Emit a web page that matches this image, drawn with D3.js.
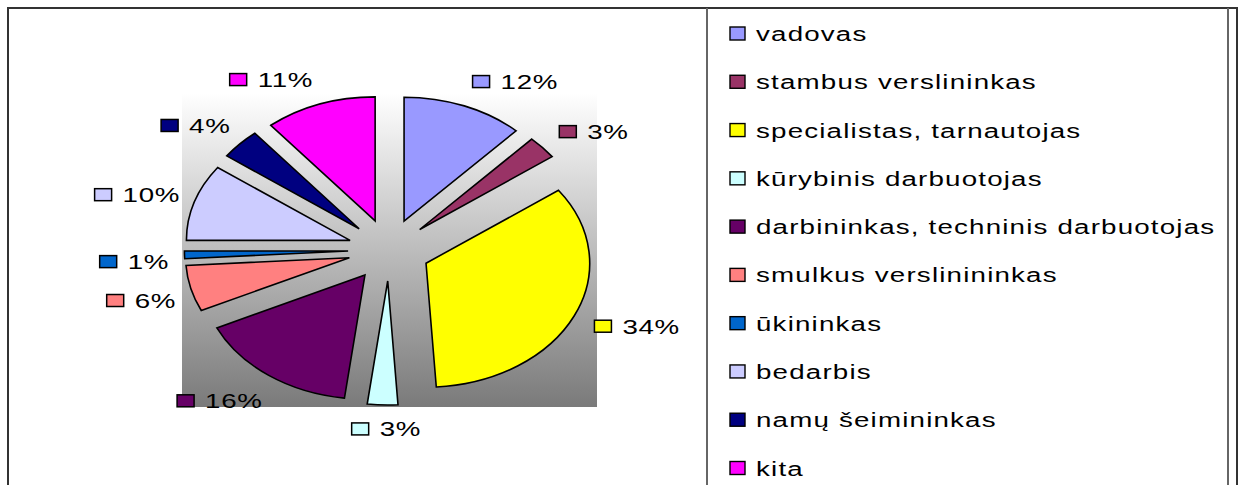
<!DOCTYPE html>
<html>
<head>
<meta charset="utf-8">
<script src="https://cdn.jsdelivr.net/npm/d3@7/dist/d3.min.js"></script>
<style>
  body { margin: 0; background: #fff; }
  text { font-family: "Liberation Sans", Arial, sans-serif; fill: #000; }
</style>
</head>
<body>
<script>
// categories and shares (percent), clockwise from 12 o'clock
var categories = ["vadovas", "stambus verslininkas", "specialistas, tarnautojas", "kūrybinis darbuotojas",
  "darbininkas, techninis darbuotojas", "smulkus verslinininkas", "ūkininkas", "bedarbis",
  "namų šeimininkas", "kita"];
var shares = [12, 3, 34, 3, 16, 6, 1, 10, 4, 11];
var labels = ["12%", "3%", "34%", "3%", "16%", "6%", "1%", "10%", "4%", "11%"];
var colours = ["#9999FF", "#993366", "#FFFF00", "#CCFFFF", "#660066", "#FF8080", "#0066CC", "#CCCCFF", "#000080", "#FF00FF"];

var data = categories.map(function(c, i){ return {name: c, value: shares[i], label: labels[i], colour: colours[i]}; });

var W = 1242, H = 485;
var sx = 1.32;          // the picture is stretched sideways
var cx = 389, cy = 250;
var R = 124, explode = 31, labelR = 172;
var fontSize = 21;

var svg = d3.select("body").append("svg")
  .attr("width", W).attr("height", H);

// plot area gradient
var grad = svg.append("defs").append("linearGradient")
  .attr("id", "bg").attr("x1", 0).attr("y1", 0).attr("x2", 0).attr("y2", 1);
grad.append("stop").attr("offset", "0%").attr("stop-color", "#ffffff");
grad.append("stop").attr("offset", "100%").attr("stop-color", "#7a7a7a");

svg.append("rect")
  .attr("x", cx - 207).attr("y", cy - 157)
  .attr("width", 415).attr("height", 314)
  .attr("fill", "url(#bg)");

var pie = d3.pie().sort(null).value(function(d){ return d.value; });
var arc = d3.arc().innerRadius(0).outerRadius(R);
var arcs = pie(data);

var g = svg.append("g")
  .attr("transform", "translate(" + cx + "," + cy + ") scale(" + sx + ",1)");

g.selectAll("path")
  .data(arcs)
  .enter()
  .append("path")
  .attr("d", arc)
  .attr("transform", function(d){
    var m = (d.startAngle + d.endAngle) / 2;
    return "translate(" + (explode * Math.sin(m)) + "," + (-explode * Math.cos(m)) + ")";
  })
  .attr("fill", function(d){ return d.data.colour; })
  .attr("stroke", "#000")
  .attr("stroke-width", 1.6)
  .attr("stroke-linejoin", "miter")
  .attr("vector-effect", "non-scaling-stroke");

// data labels: key square + percent, placed outside each slice
var lab = svg.append("g");
arcs.forEach(function(d){
  var m = (d.startAngle + d.endAngle) / 2;
  var s = Math.sin(m), c = Math.cos(m);
  var px = cx + sx * labelR * s;
  var py = cy - labelR * c;
  var t = lab.append("text")
    .attr("font-size", fontSize)
    .attr("letter-spacing", 0.5)
    .text(d.data.label);
  var tw = t.node().getComputedTextLength() * sx;
  var w = 17 + 10 + tw;
  var left;
  if (s > 0.2) left = px;
  else if (s < -0.2) left = px - w + (c < 0.8 ? 6 : 0);
  else left = px - w / 2 + 4;
  var yc = py - 7 * c;
  if (s < -0.2 && c < 0.2) yc += 6;       // lower-left labels sit a bit lower
  if (c > 0.6 && s < 0.7) yc -= 2;
  lab.append("rect")
    .attr("x", left).attr("y", yc - 6)
    .attr("width", 17).attr("height", 12)
    .attr("fill", d.data.colour)
    .attr("stroke", "#000").attr("stroke-width", 1.5);
  t.attr("transform", "translate(" + (left + 28) + "," + (yc + 7.5) + ") scale(" + sx + ",1)");
});

// legend
var legend = svg.append("g");
var rowY = d3.scaleLinear().domain([0, categories.length - 1]).range([33.5, 468]);
data.forEach(function(d, i){
  var y = rowY(i);
  legend.append("rect")
    .attr("x", 730).attr("y", y - 6.5)
    .attr("width", 15).attr("height", 13)
    .attr("fill", d.colour)
    .attr("stroke", "#000").attr("stroke-width", 1.4);
  legend.append("text")
    .attr("transform", "translate(756," + (y + 7.5) + ") scale(" + sx + ",1)")
    .attr("font-size", fontSize)
    .attr("letter-spacing", 0.9)
    .text(d.name);
});

// table frame
var frame = svg.append("g").attr("stroke", "#333").attr("stroke-width", 2);
frame.append("line").attr("x1", 7).attr("x2", 1238).attr("y1", 8).attr("y2", 8);
frame.append("line").attr("x1", 8).attr("x2", 8).attr("y1", 7).attr("y2", H);
frame.append("line").attr("x1", 707).attr("x2", 707).attr("y1", 8).attr("y2", H).attr("stroke", "#666");
frame.append("line").attr("x1", 1228).attr("x2", 1228).attr("y1", 8).attr("y2", H).attr("stroke", "#666");
frame.append("line").attr("x1", 1237).attr("x2", 1237).attr("y1", 7).attr("y2", H);
</script>
</body>
</html>
